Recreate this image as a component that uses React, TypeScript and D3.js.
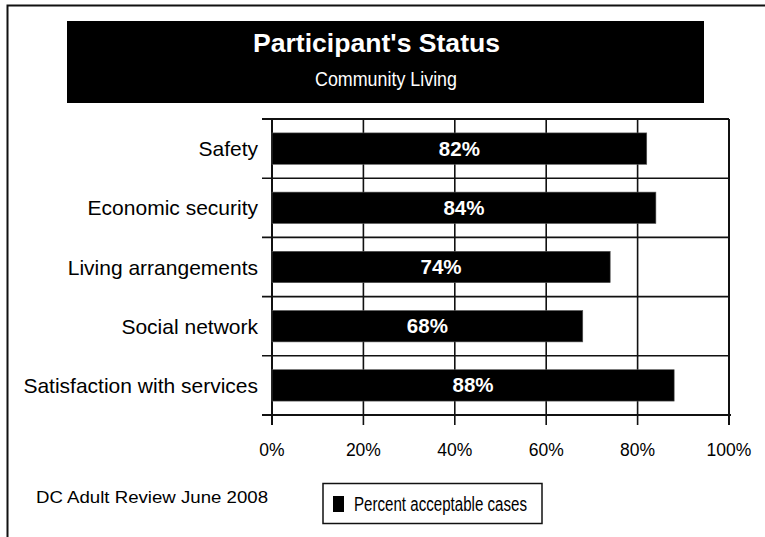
import React from "react";
import * as d3 from "d3";

const categories = [
  "Safety",
  "Economic security",
  "Living arrangements",
  "Social network",
  "Satisfaction with services",
];
const values = [0.82, 0.84, 0.74, 0.68, 0.88];
const xTicks = [0, 0.2, 0.4, 0.6, 0.8, 1];
const title = "Participant's Status";
const subtitle = "Community Living";
const footnote = "DC Adult Review June 2008";
const legendLabel = "Percent acceptable cases";

const FONT = "'Liberation Sans', Arial, Helvetica, sans-serif";

export default function App() {
  const x = d3.scaleLinear().domain([0, 1]).range([272, 729]);
  const y = d3
    .scaleBand<string>()
    .domain(categories)
    .range([119, 415])
    .paddingInner(0.47)
    .paddingOuter(0.235);
  const step = y.step();
  const top = 119;
  const bottom = 415;
  const boundaries = d3.range(categories.length + 1).map((i) => top + i * step);
  const fmt = d3.format(".0%");

  return (
    <svg
      width={765}
      height={537}
      style={{ position: "absolute", left: 0, top: 0, background: "#fff" }}
      fontFamily={FONT}
    >
      <rect x={0} y={0} width={765} height={537} fill="#fff" />
      {/* outer frame */}
      <path d="M7.5,537 V5.5 H765" fill="none" stroke="#111" strokeWidth={2} />

      {/* title box */}
      <rect x={67} y={21} width={637} height={82} fill="#000" />
      <text
        x={376.5}
        y={52}
        textAnchor="middle"
        fill="#fff"
        fontWeight="bold"
        fontSize={25}
        textLength={247}
        lengthAdjust="spacingAndGlyphs"
      >
        {title}
      </text>
      <text
        x={386}
        y={86}
        textAnchor="middle"
        fill="#fff"
        fontSize={21}
        textLength={142}
        lengthAdjust="spacingAndGlyphs"
      >
        {subtitle}
      </text>

      {/* vertical gridlines / ticks */}
      {xTicks.map((t) => (
        <line
          key={"v" + t}
          x1={x(t)}
          x2={x(t)}
          y1={top}
          y2={bottom + 10}
          stroke="#111"
          strokeWidth={t === 0 || t === 1 ? 2 : 1.6}
        />
      ))}
      {/* horizontal category boundaries */}
      {boundaries.map((b, i) => (
        <line
          key={"h" + i}
          x1={262}
          x2={x(1) + (i === boundaries.length - 1 ? 2 : 0)}
          y1={b}
          y2={b}
          stroke="#111"
          strokeWidth={i === 0 || i === boundaries.length - 1 ? 2 : 1.6}
        />
      ))}

      {/* bars */}
      {categories.map((c, i) => (
        <g key={c}>
          <rect
            x={x(0)}
            y={y(c)}
            width={x(values[i]) - x(0)}
            height={y.bandwidth()}
            fill="#000"
            stroke="#555"
            strokeWidth={0.6}
          />
          <text
            x={(x(0) + x(values[i])) / 2}
            y={(y(c) as number) + y.bandwidth() / 2 + 7}
            textAnchor="middle"
            fill="#fff"
            fontWeight="bold"
            fontSize={20.5}
          >
            {fmt(values[i])}
          </text>
          <text
            x={258}
            y={(y(c) as number) + y.bandwidth() / 2 + 7.5}
            textAnchor="end"
            fill="#000"
            fontSize={21}
          >
            {c}
          </text>
        </g>
      ))}

      {/* tick labels */}
      {xTicks.map((t) => (
        <text key={"t" + t} x={x(t)} y={456} textAnchor="middle" fontSize={17.5} fill="#000">
          {fmt(t)}
        </text>
      ))}

      {/* footnote */}
      <text
        x={36}
        y={503}
        fontSize={16}
        fill="#000"
        textLength={232}
        lengthAdjust="spacingAndGlyphs"
      >
        {footnote}
      </text>

      {/* legend */}
      <rect x={323} y={483.5} width={219} height={40} fill="#fff" stroke="#111" strokeWidth={1.5} />
      <rect x={333} y={496} width={11} height={16} fill="#000" />
      <text
        x={354}
        y={511}
        fontSize={20}
        fill="#000"
        textLength={173}
        lengthAdjust="spacingAndGlyphs"
      >
        {legendLabel}
      </text>
    </svg>
  );
}
